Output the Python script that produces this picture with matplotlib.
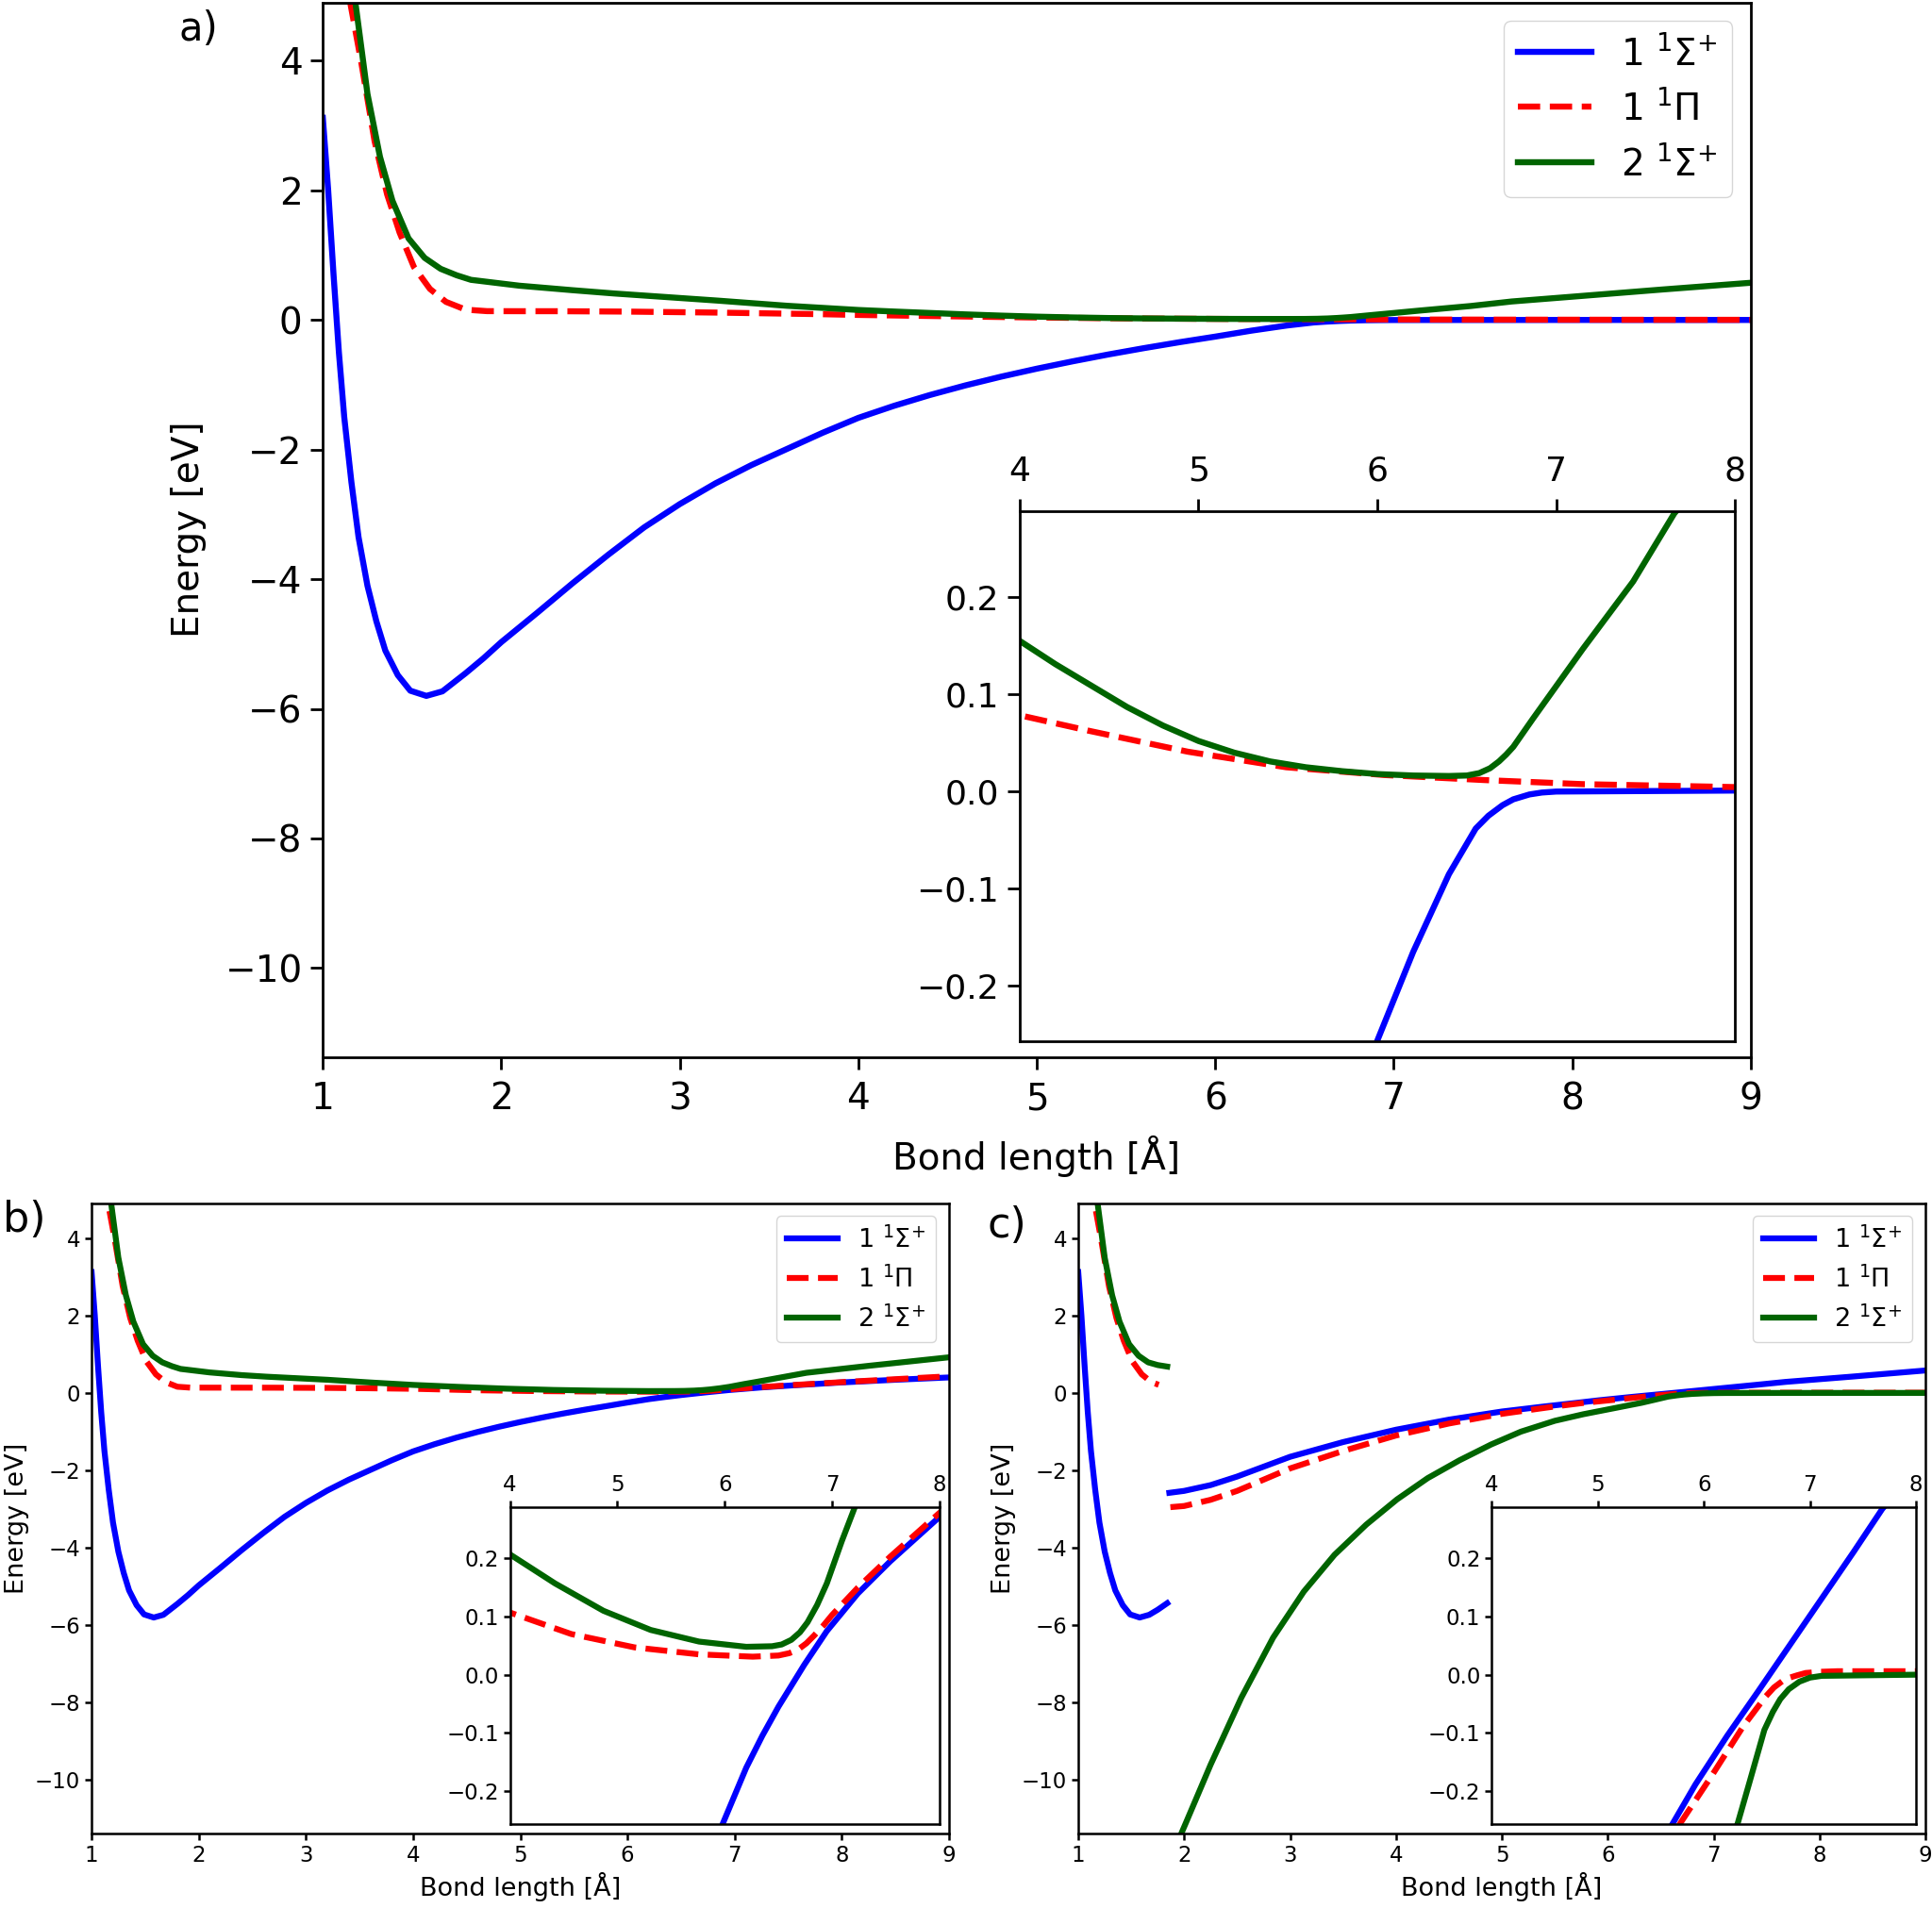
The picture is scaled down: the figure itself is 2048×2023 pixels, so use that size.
import numpy as np
import matplotlib.pyplot as plt

plt.rcParams['font.family'] = ['DejaVu Sans']

# ---- panel a) ----
r_a_sig1 = [1.00, 1.03, 1.06, 1.09, 1.12, 1.16, 1.20, 1.25, 1.30, 1.35, 1.42, 1.49, 1.58,
            1.67, 1.80, 1.90, 2.00, 2.20, 2.40, 2.60, 2.80, 3.00, 3.20, 3.40, 3.60, 3.80,
            4.00, 4.20, 4.40, 4.60, 4.80, 5.00, 5.20, 5.40, 5.60, 5.80, 6.00,
            6.20, 6.40, 6.55, 6.62, 6.70, 6.76, 6.85, 6.92, 7.00, 7.50, 8.00, 9.00]
e_a_sig1 = [3.12, 2.00, 0.70, -0.50, -1.50, -2.50, -3.35, -4.10, -4.65, -5.10, -5.48, -5.72, -5.80,
            -5.73, -5.45, -5.22, -4.97, -4.52, -4.06, -3.62, -3.20, -2.84, -2.52, -2.24, -1.99, -1.74,
            -1.51, -1.324, -1.158, -1.009, -0.874, -0.751, -0.638, -0.532, -0.434, -0.342, -0.256,
            -0.165, -0.085, -0.038, -0.025, -0.014, -0.008, -0.003, -0.001, 0.0, 0.0005, 0.001, 0.001]
r_a_pi = [1.10, 1.15, 1.215, 1.29, 1.36, 1.43, 1.51, 1.60, 1.69, 1.80, 1.92, 2.10, 2.30, 2.70,
          3.20, 3.75, 4.00, 4.39, 4.94, 5.49, 6.04, 6.60, 7.15, 8.00, 9.00]
e_a_pi = [6.30, 4.95, 3.98, 2.76, 1.94, 1.35, 0.82, 0.48, 0.28, 0.16, 0.137, 0.136, 0.136, 0.13,
          0.115, 0.092, 0.0785, 0.0624, 0.041, 0.025, 0.017, 0.0118, 0.0076, 0.0046, 0.003]
r_a_sig2 = [1.12, 1.18, 1.25, 1.32, 1.39, 1.48, 1.57, 1.66, 1.75, 1.83, 2.10, 2.40, 2.63, 3.21,
            3.60, 4.00, 4.20, 4.40, 4.60, 4.80, 5.00, 5.20, 5.40, 5.60, 5.80, 6.00, 6.20, 6.40,
            6.50, 6.57, 6.63, 6.68, 6.72, 6.76, 6.87, 7.15, 7.43, 7.66, 8.00, 8.50, 9.00]
e_a_sig2 = [6.30, 4.95, 3.49, 2.52, 1.84, 1.26, 0.96, 0.79, 0.69, 0.62, 0.53, 0.46, 0.41, 0.30,
            0.22, 0.155, 0.131, 0.109, 0.087, 0.068, 0.052, 0.040, 0.031, 0.025, 0.021, 0.018, 0.0165, 0.016,
            0.0165, 0.019, 0.024, 0.031, 0.038, 0.046, 0.075, 0.147, 0.216, 0.286, 0.36, 0.47, 0.575]

# ---- panel b) ----
r_b_sig1 = [1.00, 1.03, 1.06, 1.09, 1.12, 1.16, 1.20, 1.25, 1.30, 1.35, 1.42, 1.49, 1.58,
            1.67, 1.80, 1.90, 2.00, 2.20, 2.40, 2.60, 2.80, 3.00, 3.20, 3.40, 3.60, 3.80,
            4.00, 4.20, 4.40, 4.60, 4.80, 5.00, 5.20, 5.40, 5.60, 5.80, 5.98,
            6.20, 6.35, 6.50, 6.74, 6.95, 7.24, 7.54, 7.99, 8.50, 9.00]
e_b_sig1 = [3.12, 2.00, 0.70, -0.50, -1.50, -2.50, -3.35, -4.10, -4.65, -5.10, -5.48, -5.72, -5.80,
            -5.73, -5.45, -5.22, -4.97, -4.52, -4.06, -3.62, -3.20, -2.84, -2.52, -2.24, -1.99, -1.74,
            -1.51, -1.324, -1.158, -1.009, -0.874, -0.751, -0.638, -0.532, -0.434, -0.342, -0.257,
            -0.160, -0.105, -0.055, 0.017, 0.075, 0.14, 0.195, 0.27, 0.34, 0.40]
r_b_pi = [1.10, 1.15, 1.215, 1.29, 1.36, 1.43, 1.51, 1.60, 1.69, 1.80, 1.92, 2.10, 2.30, 2.70,
          3.20, 3.60, 4.00, 4.57, 5.16, 5.76, 6.26, 6.50, 6.60, 6.68, 6.76, 6.83, 6.92, 7.00,
          7.24, 7.54, 7.99, 8.50, 9.00]
e_b_pi = [6.30, 4.95, 3.98, 2.76, 1.94, 1.35, 0.82, 0.48, 0.28, 0.16, 0.137, 0.136, 0.136, 0.135,
          0.13, 0.12, 0.107, 0.070, 0.047, 0.035, 0.031, 0.033, 0.037, 0.043, 0.054, 0.067, 0.085, 0.103,
          0.15, 0.203, 0.277, 0.355, 0.43]
r_b_sig2 = [1.12, 1.18, 1.25, 1.32, 1.39, 1.48, 1.57, 1.66, 1.75, 1.83, 2.10, 2.40, 2.63, 3.20,
            3.60, 4.00, 4.42, 4.87, 5.31, 5.76, 6.20, 6.44, 6.53, 6.62, 6.70, 6.77, 6.86, 6.95,
            7.09, 7.20, 7.67, 8.25, 9.00]
e_b_sig2 = [6.30, 4.95, 3.49, 2.52, 1.84, 1.26, 0.96, 0.79, 0.69, 0.62, 0.53, 0.46, 0.42, 0.34,
            0.27, 0.207, 0.157, 0.11, 0.077, 0.057, 0.048, 0.049, 0.052, 0.06, 0.073, 0.09, 0.12, 0.157,
            0.23, 0.283, 0.52, 0.70, 0.92]

# ---- panel c) (two branches, split near 1.85 A) ----
r_c_sig1_in = [1.00, 1.03, 1.06, 1.09, 1.12, 1.16, 1.20, 1.25, 1.30, 1.35, 1.42, 1.49, 1.58,
               1.67, 1.75, 1.84]
e_c_sig1_in = [3.12, 2.00, 0.70, -0.50, -1.50, -2.50, -3.35, -4.10, -4.65, -5.10, -5.48, -5.72, -5.80,
               -5.73, -5.60, -5.43]
r_c_pi_in = [1.10, 1.15, 1.215, 1.29, 1.36, 1.43, 1.51, 1.60, 1.69, 1.76]
e_c_pi_in = [6.30, 4.95, 3.98, 2.76, 1.94, 1.35, 0.82, 0.48, 0.28, 0.21]
r_c_sig2_in = [1.12, 1.18, 1.25, 1.32, 1.39, 1.48, 1.57, 1.66, 1.75, 1.84]
e_c_sig2_in = [6.30, 4.95, 3.49, 2.52, 1.84, 1.26, 0.96, 0.79, 0.72, 0.68]

r_c_sig1_out = [1.86, 2.00, 2.25, 2.50, 3.00, 3.50, 4.00, 4.50, 5.00, 5.40, 5.71, 5.92, 6.22,
                6.51, 6.81, 7.11, 7.41, 7.68, 8.30, 9.00]
e_c_sig1_out = [-2.58, -2.53, -2.38, -2.16, -1.65, -1.27, -0.95, -0.69, -0.48, -0.35, -0.255, -0.189, -0.105,
                -0.029, 0.051, 0.131, 0.211, 0.285, 0.42, 0.58]
r_c_pi_out = [1.87, 2.00, 2.25, 2.50, 3.00, 3.50, 4.00, 4.50, 5.00, 5.50, 5.78, 6.07, 6.37,
              6.58, 6.66, 6.74, 6.81, 6.88, 6.96, 7.10, 7.26, 8.00, 9.00]
e_c_pi_out = [-2.95, -2.92, -2.76, -2.53, -1.95, -1.50, -1.10, -0.79, -0.54, -0.35, -0.255, -0.175, -0.089,
              -0.038, -0.022, -0.011, -0.005, -0.001, 0.003, 0.005, 0.006, 0.006, 0.006]
r_c_sig2_out = [1.86, 2.02, 2.25, 2.54, 2.84, 3.13, 3.42, 3.72, 4.01, 4.30, 4.60, 4.90, 5.18,
                5.50, 5.77, 6.05, 6.32, 6.43, 6.57, 6.65, 6.72, 6.80, 6.90, 7.00, 7.11, 8.00, 9.00]
e_c_sig2_out = [-12.1, -11.08, -9.60, -7.87, -6.32, -5.13, -4.18, -3.40, -2.75, -2.20, -1.74, -1.33, -1.00,
                -0.72, -0.55, -0.40, -0.255, -0.185, -0.095, -0.064, -0.042, -0.025, -0.012, -0.005, -0.002, 0.0, 0.0]

labels = [r'1 $^{1}\Sigma^{+}$', r'1 $^{1}\Pi$', r'2 $^{1}\Sigma^{+}$']
styles = [dict(color='#0000ff', ls='-'), dict(color='#ff0000', ls='--'), dict(color='#006400', ls='-')]


def draw_panel(ax, segs, fs, fs_lab, fs_in, lw, tl, sw, xpad, ypad, lpad):
	"""
	main axes + zoomed inset
	segs: list of (state index, r, e)
	"""
	ins = ax.inset_axes([0.488, 0.0146, 0.501, 0.5026])
	done = set()
	for k, r, e in segs:
		lab = labels[k] if k not in done else None
		done.add(k)
		ax.plot(r, e, lw=lw, label=lab, **styles[k])
		ins.plot(r, e, lw=lw, **styles[k])

	ax.set_xlim(1, 9)
	ax.set_ylim(-11.37, 4.9)
	ax.set_xticks(np.arange(1, 10, 1))
	ax.set_yticks(np.arange(-10, 5, 2))
	ax.set_xlabel('Bond length [Å]', fontsize=fs_lab, labelpad=lpad)
	ax.set_ylabel('Energy [eV]', fontsize=fs_lab, labelpad=lpad)
	ax.tick_params(labelsize=fs, length=tl, width=sw)
	ax.tick_params(axis='x', pad=xpad)
	ax.tick_params(axis='y', pad=ypad)
	for s in ax.spines.values():
		s.set_linewidth(sw)
	ax.legend(loc='upper right', fontsize=fs_lab)

	ins.set_xlim(4, 8)
	ins.set_ylim(-0.257, 0.288)
	ins.set_xticks([4, 5, 6, 7, 8])
	ins.set_yticks([-0.2, -0.1, 0.0, 0.1, 0.2])
	ins.xaxis.tick_top()
	ins.tick_params(labelsize=fs_in, length=tl, width=sw)
	ins.tick_params(axis='x', pad=xpad)
	ins.tick_params(axis='y', pad=ypad)
	for s in ins.spines.values():
		s.set_linewidth(sw)


fig = plt.figure(figsize=(20.48, 20.23), dpi=100)

ax_a = fig.add_axes([0.1671, 0.4461, 0.7391, 0.5526])
draw_panel(ax_a, [(0, r_a_sig1, e_a_sig1), (1, r_a_pi, e_a_pi), (2, r_a_sig2, e_a_sig2)],
	28, 28, 26, 4.6, 9.5, 2.0, 9, 6, 14)

ax_b = fig.add_axes([0.0474, 0.0392, 0.4438, 0.3302])
draw_panel(ax_b, [(0, r_b_sig1, e_b_sig1), (1, r_b_pi, e_b_pi), (2, r_b_sig2, e_b_sig2)],
	16.5, 19.5, 16.5, 4.5, 5, 1.8, 4, 3.5, 4)

ax_c = fig.add_axes([0.5581, 0.0392, 0.4385, 0.3302])
draw_panel(ax_c, [(0, r_c_sig1_in, e_c_sig1_in), (1, r_c_pi_in, e_c_pi_in), (2, r_c_sig2_in, e_c_sig2_in),
	(0, r_c_sig1_out, e_c_sig1_out), (1, r_c_pi_out, e_c_pi_out), (2, r_c_sig2_out, e_c_sig2_out)],
	16.5, 19.5, 16.5, 4.5, 5, 1.8, 4, 3.5, 4)

fig.text(0.0925, 0.995, 'a)', fontsize=30, ha='left', va='top')
fig.text(0.0016, 0.371, 'b)', fontsize=32, ha='left', va='top')
fig.text(0.511, 0.3685, 'c)', fontsize=32, ha='left', va='top')

fig.savefig('out.png', dpi=100)
